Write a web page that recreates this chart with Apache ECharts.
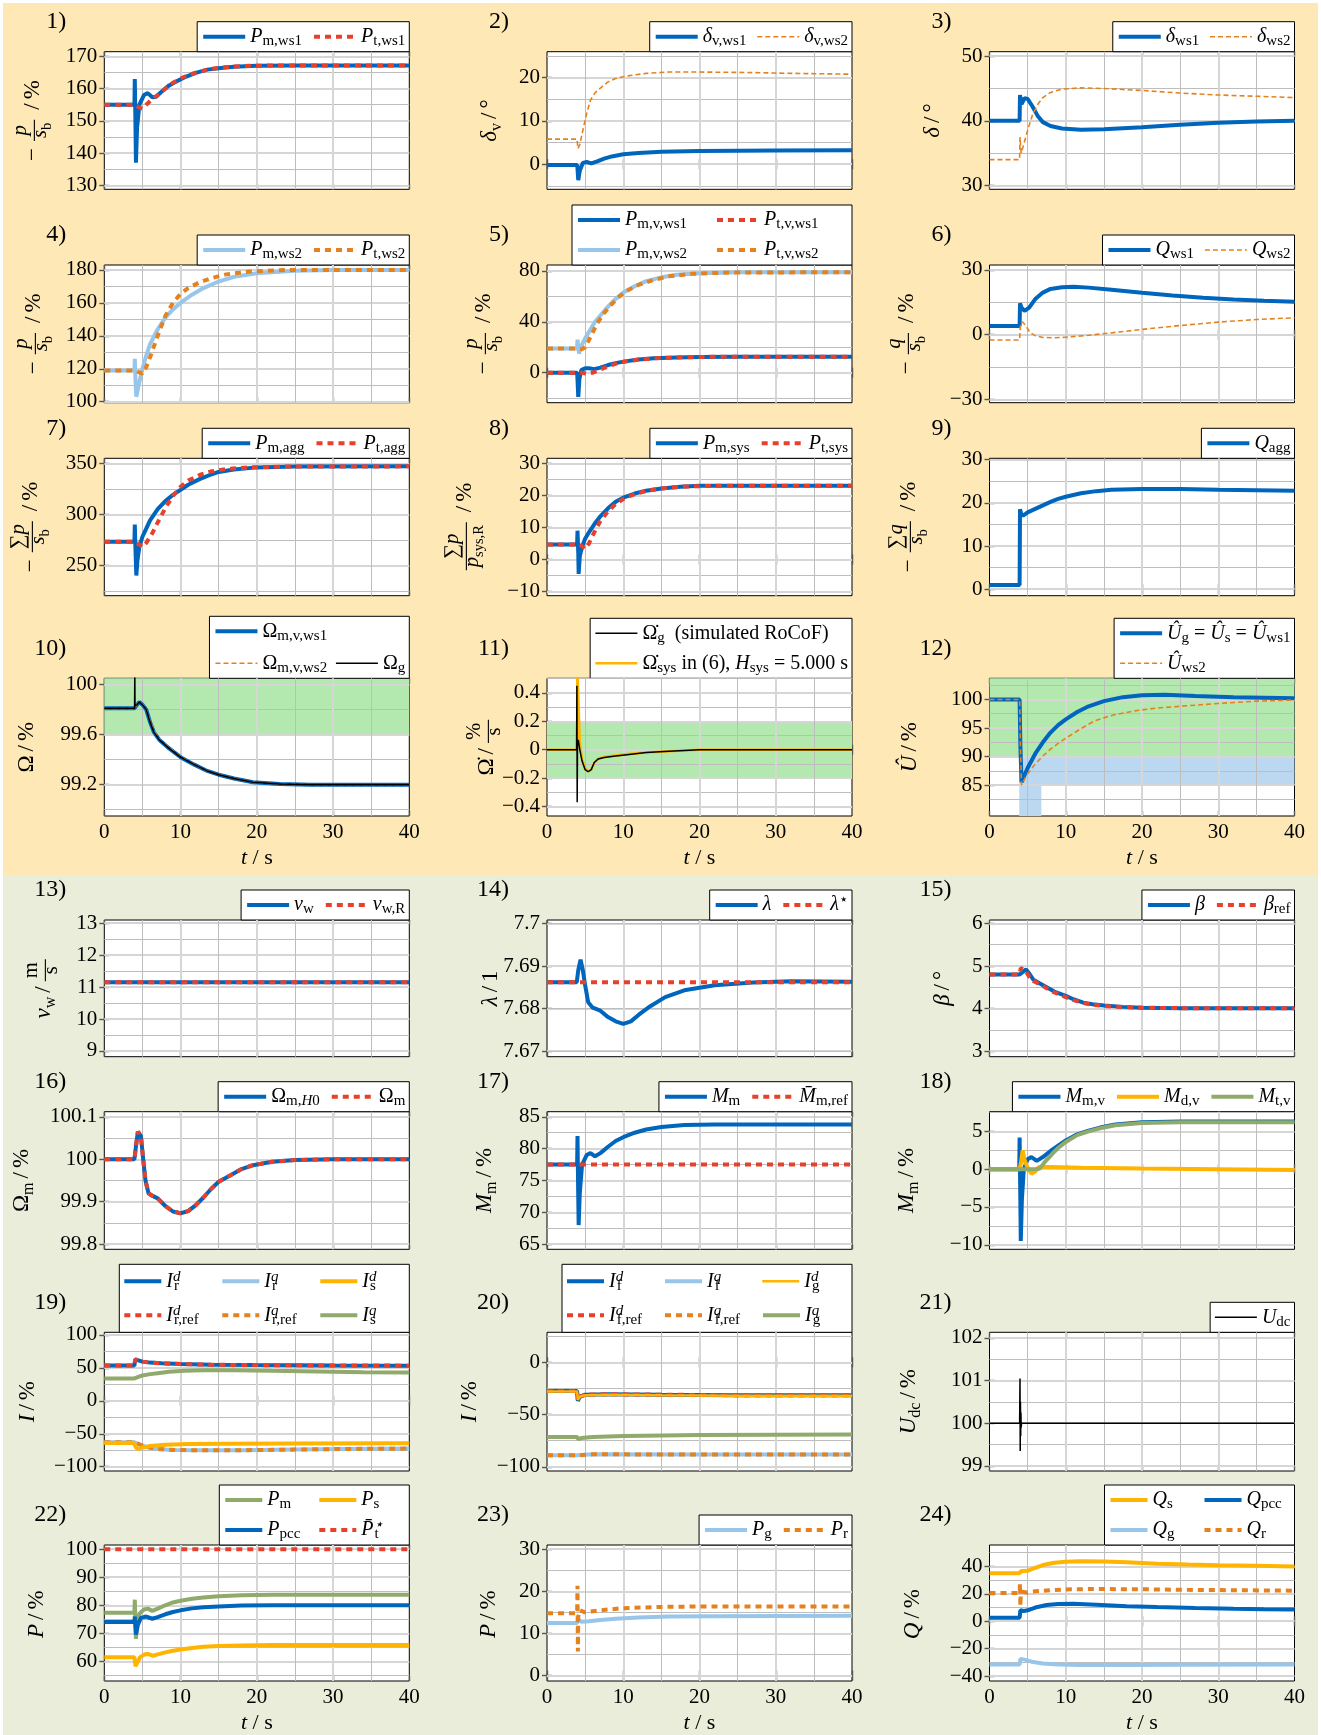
<!DOCTYPE html>
<html><head><meta charset="utf-8">
<script src="https://cdn.jsdelivr.net/npm/echarts@6/dist/echarts.min.js"></script>
<style>
html,body{margin:0;padding:0;background:#fff}
#wrap{position:relative;width:1321px;height:1735px;background:#fff}
#py{position:absolute;left:3px;top:3px;width:1315px;height:872px;background:#FDE8B6}
#pg{position:absolute;left:3px;top:875px;width:1315px;height:860px;background:#EAEDD9}
#c{position:absolute;left:0;top:0;width:1321px;height:1735px}
</style>
</head><body><div id="wrap"><div id="py"></div><div id="pg"></div><div id="c"></div></div>
<script>
// ---------------- DATA ----------------
const xRange = [0, 40];
const xTicks = [0, 10, 20, 30, 40];

const y1Range = [128.75, 171.46], y1Ticks = [130, 140, 150, 160, 170];
const p1_pm = [[0,155],[3.95,155],[4.0,163],[4.08,150],[4.15,137],[4.3,148],[4.6,155],[5.2,158],[5.7,158.6],[6.3,157.3],[6.8,157.5],[7.5,159],[8.5,161],[9.5,162.3],[10.5,163.5],[12,164.9],[13.5,165.9],[15,166.3],[17,166.8],[20,167.1],[25,167.2],[40,167.2]];
const p1_pt = [[0,155],[4,155],[4.5,154.2],[5,153.8],[5.5,155],[6.3,156.8],[7,158],[8,160],[9,161.8],[10,163.1],[11,164.2],[12.5,165.3],[14,166.1],[16,166.7],[19,167.1],[25,167.2],[40,167.2]];

const y2Range = [-5.8, 26], y2Ticks = [0, 10, 20];
const p2_ws1 = [[0,-0.2],[3.95,-0.2],[4.0,-1],[4.1,-3.7],[4.3,-1.5],[4.7,0.3],[5.2,0.5],[5.8,0.2],[6.5,0.6],[7.5,1.3],[8.5,1.8],[10,2.3],[12,2.6],[15,2.9],[20,3.05],[30,3.15],[40,3.2]];
const p2_ws2 = [[0,5.8],[3.95,5.8],[4.05,3.6],[4.3,4.5],[4.6,7],[5.1,11],[5.7,14.8],[6.3,16.5],[7,17.6],[8,19],[9,19.8],[10.5,20.4],[13,21],[16,21.3],[20,21.3],[26,21.2],[32,21],[40,20.8]];

const y3Range = [29.4, 50.7], y3Ticks = [30, 40, 50];
const p3_ws1 = [[0,40],[3.95,40],[4.0,44],[4.2,42.6],[4.6,43.5],[5,43.4],[5.6,42.3],[6.3,40.8],[7,39.8],[8,39.2],[9.5,38.8],[12,38.6],[15,38.7],[20,39],[25,39.4],[30,39.7],[35,39.9],[40,40]];
const p3_ws2 = [[0,34],[3.95,34],[4.0,37.5],[4.15,35],[4.4,36],[5,38.5],[5.6,40.8],[6.3,42.5],[7,43.6],[8,44.4],[9.5,44.9],[12,45.1],[15,45],[20,44.7],[25,44.3],[30,44],[35,43.8],[40,43.6]];

const y4Range = [99.4, 183], y4Ticks = [100, 120, 140, 160, 180];
const p4_pm = [[0,119],[3.95,119],[4.0,126],[4.1,112],[4.2,103],[4.5,110],[5,120],[5.5,128],[6,135],[7,144],[8,151],[9,156],[10,160],[11.5,165],[13,169],[15,173],[17,175.8],[20,178],[25,179.5],[30,180],[40,180]];
const p4_pt = [[0,119],[4,119],[4.5,118],[5,117],[5.5,121],[6,127],[7,140],[8,152],[9,160],[10,165.5],[11,169],[12.5,172.5],[14,175],[16,177.3],[19,179],[24,180],[40,180]];

const y5Range = [-23.6, 84.7], y5Ticks = [0, 40, 80];
const p5_pm1 = [[0,0],[3.95,0],[4.0,-5],[4.1,-19],[4.25,-5],[4.5,2],[5,3.5],[5.5,3.5],[6.2,2.8],[7,4],[8,6],[9,7.5],[10,8.7],[12,10.3],[14,11.3],[17,12],[20,12.4],[25,12.6],[40,12.6]];
const p5_pt1 = [[0,0],[4.6,0],[5.3,-0.8],[6,0],[7,2.5],[8,5],[9,7],[10,8.5],[12,10.3],[14,11.3],[17,12],[20,12.4],[25,12.6],[40,12.6]];
const p5_pm2 = [[0,19],[3.95,19],[4.0,26],[4.1,20],[4.2,15],[4.5,21],[5,27],[5.5,32],[6.3,40],[7,45],[8,52],[9,58],[10,63],[11.5,68],[13,72],[15,75],[17,77],[20,78.3],[25,79],[40,79]];
const p5_pt2 = [[0,19],[4,19],[4.6,18.5],[5,20],[5.7,28],[6.5,38],[7.5,47],[8.5,54],[9.5,60],[10.5,64.5],[12,69],[14,73],[16,75.8],[19,77.8],[24,78.8],[40,79]];

const y6Range = [-31.6, 32.3], y6Ticks = [-30, 0, 30];
const p6_ws1 = [[0,4],[3.95,4],[4.0,14.5],[4.2,12.5],[4.6,11],[5.2,12.5],[6,16.5],[7,19.5],[8,21.2],[9.5,22],[11,22.2],[13,21.8],[16,20.8],[20,19.4],[24,18.2],[28,17.1],[32,16.3],[36,15.7],[40,15.3]];
const p6_ws2 = [[0,-2.5],[3.95,-2.5],[4.05,4],[4.3,6],[4.7,4.5],[5.3,1],[6,-0.5],[7,-1.3],[8.5,-1.5],[10,-1.2],[13,-0.3],[17,1.2],[21,2.8],[25,4.2],[30,5.8],[35,7],[40,7.8]];

const y7Range = [220.2, 354.9], y7Ticks = [250, 300, 350];
const p7_pm = [[0,273],[3.95,273],[4.0,290],[4.1,262],[4.2,240],[4.35,255],[4.6,268],[5,278],[5.5,286],[6,294],[7,305],[8,313],[9,319],[10,324],[11,329],[12.5,334.5],[14,339],[15,341.5],[17,344],[20,346],[25,346.8],[40,347]];
const p7_pt = [[0,273],[4,273],[4.5,271],[5,268],[5.5,272],[6.2,280],[7,292],[8,306],[9,318],[10,327],[11,333],[12.5,338.5],[14,342],[16,344.5],[19,346],[24,346.8],[40,347]];

const y8Range = [-11.3, 31.6], y8Ticks = [-10, 0, 10, 20, 30];
const p8_pm = [[0,4.7],[3.95,4.7],[4.0,9],[4.1,2],[4.15,-4.5],[4.3,1],[4.6,4],[5,6.5],[5.5,8.5],[6.2,11],[7,13.5],[8,16],[9,18],[10,19.3],[11.5,20.6],[13,21.5],[15,22.2],[17.5,22.7],[20,23],[25,23],[40,23]];
const p8_pt = [[0,4.7],[4.3,4.7],[5,3.3],[5.5,5],[6.2,8.5],[7,12],[8,15],[9,17.3],[10,18.9],[11.5,20.4],[13,21.4],[15,22.2],[18,22.8],[22,23],[40,23]];

const y9Range = [-1.5, 30.3], y9Ticks = [0, 10, 20, 30];
const p9_q = [[0,1],[3.95,1],[4.0,18.5],[4.15,17.5],[4.4,17],[5,17.8],[6,18.6],[7,19.4],[8,20.2],[9,20.9],[10,21.4],[12,22.2],[14,22.7],[16,23],[20,23.2],[25,23.2],[30,23],[35,22.9],[40,22.8]];

const y10Range = [98.95, 100.05], y10Ticks = [99.2, 99.6, 100];
const band10 = [99.6, 100.05];
const p10_ws1 = [[0,99.81],[3.95,99.81],[4.3,99.84],[4.6,99.86],[5,99.84],[5.5,99.8],[6,99.7],[6.5,99.62],[7.2,99.56],[8.5,99.49],[10,99.42],[11.8,99.36],[13.5,99.31],[15,99.28],[17,99.25],[19.5,99.22],[23,99.205],[27,99.2],[40,99.2]];
const p10_ws2 = [[0,99.81],[3.95,99.81],[4.3,99.845],[4.6,99.862],[5,99.845],[5.5,99.8],[6,99.71],[6.5,99.63],[7.2,99.565],[8.5,99.495],[10,99.425],[11.8,99.36],[13.5,99.31],[15,99.28],[17,99.25],[19.5,99.22],[23,99.205],[27,99.2],[40,99.2]];
const p10_g = [[0,99.81],[3.97,99.81],[4.0,100.1],[4.03,99.83],[4.3,99.84],[4.6,99.86],[5,99.84],[5.5,99.8],[6,99.7],[6.5,99.62],[7.2,99.56],[8.5,99.49],[10,99.42],[11.8,99.36],[13.5,99.31],[15,99.28],[17,99.25],[19.5,99.22],[23,99.205],[27,99.2],[40,99.2]];

const y11Range = [-0.466, 0.502], y11Ticks = [-0.4, -0.2, 0, 0.2, 0.4];
const band11 = [-0.2, 0.2];
const p11_g = [[0,0],[3.88,0],[3.92,0.45],[3.96,-0.37],[4.0,0.05],[4.1,0.07],[4.3,0],[4.6,-0.08],[5,-0.14],[5.4,-0.155],[5.8,-0.14],[6.2,-0.09],[6.7,-0.065],[7.5,-0.055],[9,-0.045],[10.5,-0.035],[13,-0.02],[16,-0.01],[20,0],[40,0]];
const p11_sys = [[0,0],[3.95,0],[3.97,0.6],[4.05,0.6],[4.3,0.05],[4.6,-0.07],[5,-0.13],[5.4,-0.15],[5.8,-0.14],[6.2,-0.09],[6.7,-0.065],[7.5,-0.05],[9,-0.04],[10.5,-0.03],[13,-0.02],[16,-0.01],[20,0],[40,0]];

const y12Range = [79.6, 103.7], y12Ticks = [85, 90, 95, 100];
const band12g = [90, 103.7];
const band12b = [85, 90];
const band12c = [3.9, 6.8];
const p12_u = [[0,100],[3.95,100],[4.05,92],[4.2,85.5],[4.5,86.5],[5,88],[6,90.5],[7,92.5],[8,94.2],[9,95.5],[10,96.5],[11.5,97.8],[13,98.8],[15,99.7],[17.5,100.4],[20,100.75],[23,100.8],[27,100.6],[32,100.4],[40,100.2]];
const p12_ws2 = [[0,100],[3.95,100],[4.05,92],[4.2,85],[4.5,85.8],[5,87],[6,88.7],[7,90.1],[8,91.3],[9,92.3],[10,93.2],[12,94.9],[13.7,96.2],[16,97.2],[19,98],[22,98.5],[25,98.8],[30,99.3],[35,99.7],[40,99.9]];

const y13Range = [8.82, 13.1], y13Ticks = [9, 10, 11, 12, 13];
const p13_vw = [[0,11.15],[40,11.15]];
const p13_vwr = [[0,11.15],[40,11.15]];

const y14Range = [7.6687, 7.7008], y14Ticks = [7.67, 7.68, 7.69, 7.7];
const p14_l = [[0,7.6862],[3.9,7.6862],[4.1,7.689],[4.4,7.6915],[4.7,7.689],[5,7.6855],[5.4,7.6815],[6,7.6802],[7,7.6795],[8,7.678],[9,7.677],[10,7.6764],[11,7.677],[12,7.6785],[13.5,7.6805],[15.5,7.6827],[18,7.6843],[22,7.6855],[27,7.6861],[32,7.6864],[40,7.6863]];
const p14_ls = [[0,7.6862],[40,7.6862]];

const y15Range = [2.87, 6.08], y15Ticks = [3, 4, 5, 6];
const p15_b = [[0,4.8],[3.95,4.8],[4.3,4.85],[4.8,4.92],[5.3,4.8],[5.75,4.68],[6.5,4.6],[7.5,4.5],[8.5,4.4],[10,4.3],[11,4.22],[12.3,4.14],[13.5,4.1],[15,4.07],[17.5,4.04],[20,4.02],[25,4.01],[40,4.01]];
const p15_br = [[0,4.8],[3.95,4.8],[4.1,4.95],[4.3,4.98],[4.7,4.9],[5.2,4.75],[5.75,4.65],[6.5,4.58],[7.5,4.48],[8.5,4.38],[10,4.27],[11,4.2],[12.3,4.13],[13.5,4.09],[15,4.06],[17.5,4.035],[20,4.02],[25,4.01],[40,4.01]];

const y16Range = [99.788, 100.112], y16Ticks = [99.8, 99.9, 100, 100.1];
const p16_h0 = [[0,100],[3.95,100],[4.15,100.03],[4.4,100.065],[4.6,100.069],[4.8,100.055],[5.1,100.0],[5.4,99.95],[5.8,99.92],[6.2,99.915],[7,99.908],[8,99.89],[9,99.877],[10,99.873],[11,99.878],[12,99.892],[13,99.91],[14,99.93],[15,99.947],[16.5,99.962],[18,99.977],[19.5,99.986],[22,99.994],[25,99.998],[30,100],[40,100]];
const p16_m = [[0,100],[3.95,100],[4.15,100.03],[4.4,100.065],[4.6,100.069],[4.8,100.055],[5.1,100.0],[5.4,99.95],[5.8,99.92],[6.2,99.915],[7,99.908],[8,99.89],[9,99.877],[10,99.873],[11,99.878],[12,99.892],[13,99.91],[14,99.93],[15,99.947],[16.5,99.962],[18,99.977],[19.5,99.986],[22,99.994],[25,99.998],[30,100],[40,100]];

const y17Range = [64.2, 85.8], y17Ticks = [65, 70, 75, 80, 85];
const p17_m = [[0,77.5],[3.95,77.5],[4.0,82],[4.08,74],[4.15,68],[4.3,73],[4.6,77.5],[5.2,79],[5.7,79.3],[6.3,78.8],[7,79.3],[8,80.3],[9,81.2],[10,81.8],[11.5,82.5],[13,83],[15,83.4],[18,83.7],[22,83.8],[40,83.8]];
const p17_ref = [[0,77.5],[40,77.5]];

const y18Range = [-10.6, 7.6], y18Ticks = [-10, -5, 0, 5];
const p18_m = [[0,0],[3.9,0],[3.95,4.2],[4.02,-2],[4.1,-9.5],[4.25,-4],[4.5,0],[5,1.3],[5.5,1.6],[6.2,1.1],[7,1.6],[8,2.4],[9,3.1],[10,3.8],[11.5,4.6],[13,5.1],[14.5,5.5],[16.5,5.9],[20,6.2],[25,6.3],[40,6.3]];
const p18_d = [[0,0],[3.95,0],[4.15,1],[4.35,2.5],[4.6,1.2],[5,0.2],[5.5,-0.6],[6,-0.3],[6.5,0.3],[8,0.3],[12,0.2],[20,0.1],[30,0],[40,-0.1]];
const p18_t = [[0,0],[6,0],[6.6,0.1],[7.3,1],[8.2,2],[9,2.8],[10,3.6],[11.5,4.5],[13,5],[14.5,5.4],[16.5,5.8],[20,6.1],[25,6.2],[40,6.2]];

const y19Range = [-106.5, 104], y19Ticks = [-100, -50, 0, 50, 100];
const p19_ird = [[0,53.5],[3.95,53.5],[4.05,63],[4.3,61.5],[5,59.5],[6,58],[7.5,57],[10,55.8],[14,54.8],[20,54.2],[30,53.6],[40,53.4]];
const p19_irdr = [[0,53.5],[3.95,53.5],[4.05,63],[4.3,61.5],[5,59.5],[6,58],[7.5,57],[10,55.8],[14,54.8],[20,54.2],[30,53.6],[40,53.4]];
const p19_irq = [[0,-63],[3.95,-63],[4.2,-61],[4.6,-66],[5.5,-70],[7,-73],[9,-74.5],[12,-75],[18,-75],[25,-74],[32,-73],[40,-72.5]];
const p19_irqr = [[0,-63],[3.95,-63],[4.2,-61],[4.6,-66],[5.5,-70],[7,-73],[9,-74.5],[12,-75],[18,-75],[25,-74],[32,-73],[40,-72.5]];
const p19_isd = [[0,-64],[3.95,-64],[4.1,-70],[4.4,-73],[5,-71],[6,-68.5],[8,-66.5],[11,-65.5],[16,-65],[25,-64.8],[40,-64.5]];
const p19_isq = [[0,34],[3.95,34],[4.1,37],[5,38.5],[6,40.5],[7,42],[8.5,44],[10.5,45.5],[13,46.5],[17,46.5],[22,45.5],[28,44.5],[34,43.5],[40,43]];

const y20Range = [-104, 28.7], y20Ticks = [-100, -50, 0];
const p20_ifd = [[0,-27.5],[3.95,-27.5],[4.05,-37],[4.3,-33],[5,-31],[8,-30.5],[15,-31],[25,-31.5],[40,-31.5]];
const p20_ifdr = [[0,-27.5],[3.95,-27.5],[4.05,-37],[4.3,-33],[5,-31],[8,-30.5],[15,-31],[25,-31.5],[40,-31.5]];
const p20_igd = [[0,-28],[3.95,-28],[4.05,-36],[4.3,-33],[5,-31.5],[8,-31],[15,-31.5],[25,-32],[40,-32]];
const p20_ifq = [[0,-89],[3.95,-89],[4.2,-88],[6,-88],[20,-88.3],[40,-88.3]];
const p20_ifqr = [[0,-89],[3.95,-89],[4.2,-88],[6,-88],[20,-88.3],[40,-88.3]];
const p20_igq = [[0,-71.5],[3.95,-71.5],[4.1,-73.5],[4.5,-72.5],[6,-71.5],[10,-70.5],[20,-69.5],[40,-69]];

const y21Range = [98.88, 102.13], y21Ticks = [99, 100, 101, 102];
const p21_u = [[0,100],[3.95,100],[4.0,101.05],[4.03,99.35],[4.06,100.5],[4.09,99.7],[4.12,100.25],[4.16,99.9],[4.2,100],[40,100]];

const y22Range = [53, 101.5], y22Ticks = [60, 70, 80, 90, 100];
const p22_pm = [[0,77.3],[3.95,77.3],[4.0,82],[4.08,74],[4.15,68],[4.3,73],[4.6,77],[5.2,78.5],[5.7,78.8],[6.3,78],[7,78.8],[8,80],[9,81],[10,81.6],[11.5,82.3],[13,82.8],[15,83.2],[18,83.6],[22,83.8],[40,83.8]];
const p22_ps = [[0,61.5],[3.95,61.5],[4.1,58.3],[4.3,59],[4.7,61.5],[5.3,62.5],[5.8,62.6],[6.4,62],[7,62.5],[8,63.2],[9,63.8],[10,64.2],[11.5,64.8],[13,65.2],[15,65.5],[18,65.7],[22,65.8],[40,65.8]];
const p22_ppcc = [[0,74],[3.95,74],[4.0,76],[4.15,69.5],[4.4,73],[4.8,75.5],[5.5,76],[6.3,75.2],[7,75.8],[8,76.8],[9,77.6],[10,78.2],[11.5,78.9],[13,79.3],[15,79.6],[18,79.9],[22,80],[40,80]];
const p22_pt = [[0,100],[40,100]];

const y23Range = [-1.3, 31], y23Ticks = [0, 10, 20, 30];
const p23_pg = [[0,12.5],[3.95,12.5],[4.1,13.3],[4.5,12.8],[5.5,12.9],[7,13.2],[9,13.5],[12,13.8],[16,14],[22,14.1],[40,14.2]];
const p23_pr = [[0,14.8],[3.95,14.8],[4.0,21.3],[4.05,5.7],[4.1,14],[4.3,15.5],[5,15],[7,15.5],[10,16],[15,16.3],[20,16.4],[40,16.4]];

const y24Range = [-43.6, 55.6], y24Ticks = [-40, -20, 0, 20, 40];
const p24_qs = [[0,35],[3.95,35],[4.1,36.5],[5,36.8],[6,39],[7,41],[8.5,42.6],[10,43.4],[12,43.8],[15,43.6],[18,43],[22,42],[26,41.3],[30,40.8],[35,40.4],[40,40]];
const p24_qpcc = [[0,2.5],[3.95,2.5],[4.05,8],[4.5,7.5],[5,8],[6,10],[7.5,11.8],[9,12.5],[11,12.7],[14,12.1],[18,11],[22,10.3],[27,9.6],[32,9.1],[36,8.8],[40,8.6]];
const p24_qg = [[0,-31.5],[3.95,-31.5],[4.05,-27.5],[4.6,-28],[5.5,-29.5],[7,-30.8],[9,-31.5],[12,-32],[18,-32],[25,-31.8],[40,-31.5]];
const p24_qr = [[0,20.5],[3.95,20.5],[4.0,27.5],[4.05,11],[4.1,19.5],[4.3,21.5],[5,20.8],[6,21.8],[8,22.6],[10,23.2],[14,23.5],[20,23.3],[26,22.9],[32,22.6],[40,22.3]];

// ---------------- STYLE / LAYOUT ----------------
const W = 1321, H = 1735;
const FONT = '"Liberation Serif","DejaVu Serif",serif';
const COLS = [104.3, 547, 989.5], PW = 305;
const ROWS = [[51.7,189.3],[265,402.7],[458.3,595.7],[678.3,816],[920,1056.7],[1111.7,1249.3],[1332.3,1471],[1545,1683.3]];
const COL = {blue:'#0065BD', red:'#E8402D', lblue:'#98C6EA', orange:'#E5821E', yellow:'#FFB400', green:'#8FAA6A', black:'#000000'};
const LS = {
  solid: c => ({color:c, width:4, type:'solid'}),
  dotted: c => ({color:c, width:4, type:[6,5]}),
  dashed: c => ({color:c, width:1.6, type:[5,3]}),
  thin: c => ({color:c, width:1.5, type:'solid'}),
  mid: c => ({color:c, width:2.5, type:'solid'})
};
const GREEN_BAND = '#B3E8AE', BLUE_BAND = '#BCD8F0';
const TICKFS = 21;

// typesetting helpers for axis titles
const R = t => ({t, it:false}), I = t => ({t, it:true}), S = t => ({t, it:false, sub:true}), SI = t => ({t, it:true, sub:true});
const F = (n, d) => ({frac:[n, d]});
const SP = w => ({sp:w});
const SL = [SP(4), R('/'), SP(4)];
const frP = [R('−'), SP(6), F([I('p')], [I('s'), S('b')]), SP(5), ...SL, R('%')];

const PLOTS = [
 {range:y1Range, ticks:y1Ticks, tx:33, title:frP,
  series:[{lab:'{i|P}{s|m,ws1}', d:p1_pm, c:'blue', s:'solid'}, {lab:'{i|P}{s|t,ws1}', d:p1_pt, c:'red', s:'dotted'}]},
 {range:y2Range, ticks:y2Ticks, tx:490, title:[I('δ'), S('v'), ...SL, R('°')],
  series:[{lab:'{i|δ}{s|v,ws1}', d:p2_ws1, c:'blue', s:'solid'}, {lab:'{i|δ}{s|v,ws2}', d:p2_ws2, c:'orange', s:'dashed'}]},
 {range:y3Range, ticks:y3Ticks, tx:933, title:[I('δ'), ...SL, R('°')],
  series:[{lab:'{i|δ}{s|ws1}', d:p3_ws1, c:'blue', s:'solid'}, {lab:'{i|δ}{s|ws2}', d:p3_ws2, c:'orange', s:'dashed'}]},
 {range:y4Range, ticks:y4Ticks, tx:34, title:frP,
  series:[{lab:'{i|P}{s|m,ws2}', d:p4_pm, c:'lblue', s:'solid'}, {lab:'{i|P}{s|t,ws2}', d:p4_pt, c:'orange', s:'dotted'}]},
 {range:y5Range, ticks:y5Ticks, tx:484, title:frP, lg:{tw:84, lw:275, gap:6},
  series:[{lab:'{i|P}{s|m,v,ws1}', d:p5_pm1, c:'blue', s:'solid'}, {lab:'{i|P}{s|t,v,ws1}', d:p5_pt1, c:'red', s:'dotted'},
          {lab:'{i|P}{s|m,v,ws2}', d:p5_pm2, c:'lblue', s:'solid'}, {lab:'{i|P}{s|t,v,ws2}', d:p5_pt2, c:'orange', s:'dotted'}]},
 {range:y6Range, ticks:y6Ticks, tx:907, title:[R('−'), SP(6), F([I('q')], [I('s'), S('b')]), SP(5), ...SL, R('%')],
  series:[{lab:'{i|Q}{s|ws1}', d:p6_ws1, c:'blue', s:'solid'}, {lab:'{i|Q}{s|ws2}', d:p6_ws2, c:'orange', s:'dashed'}]},
 {range:y7Range, ticks:y7Ticks, tx:31, title:[R('−'), SP(6), F([R('∑'), I('p')], [I('s'), S('b')]), SP(5), ...SL, R('%')],
  series:[{lab:'{i|P}{s|m,agg}', d:p7_pm, c:'blue', s:'solid'}, {lab:'{i|P}{s|t,agg}', d:p7_pt, c:'red', s:'dotted'}]},
 {range:y8Range, ticks:y8Ticks, tx:465, title:[F([R('∑'), I('p')], [I('p'), S('sys,R')]), SP(5), ...SL, R('%')],
  series:[{lab:'{i|P}{s|m,sys}', d:p8_pm, c:'blue', s:'solid'}, {lab:'{i|P}{s|t,sys}', d:p8_pt, c:'red', s:'dotted'}]},
 {range:y9Range, ticks:y9Ticks, tx:909, title:[R('−'), SP(6), F([R('∑'), I('q')], [I('s'), S('b')]), SP(5), ...SL, R('%')],
  series:[{lab:'{i|Q}{s|agg}', d:p9_q, c:'blue', s:'solid'}]},
 {range:y10Range, ticks:y10Ticks, tx:27, title:[R('Ω'), ...SL, R('%')], lg:{lw:200, gap:8},
  bands:[[0,40,band10[0],band10[1],GREEN_BAND]],
  series:[{lab:'{r|Ω}{s|m,v,ws1}', d:p10_ws1, c:'blue', s:'solid'}, {lab:'{r|Ω}{s|m,v,ws2}', d:p10_ws2, c:'orange', s:'dashed'},
          {lab:'{r|Ω}{s|g}', d:p10_g, c:'black', s:'thin'}]},
 {range:y11Range, ticks:y11Ticks, tx:487, title:[R('Ω̇'), ...SL, F([R('%')], [R('s')])], lg:{lw:230, gap:6}, order:[1,0],
  bands:[[0,40,band11[0],band11[1],GREEN_BAND]],
  series:[{lab:'{r|Ω̇}{s|sys}{r| in (6), }{i|H}{s|sys}{r| = 5.000 s}', d:p11_sys, c:'yellow', s:'mid'},
          {lab:'{r|Ω̇}{s|g}{r|  (simulated RoCoF)}', d:p11_g, c:'black', s:'thin'}]},
 {range:y12Range, ticks:y12Ticks, tx:910, title:[I('Û'), ...SL, R('%')], lg:{lw:230, gap:6},
  bands:[[0,40,band12g[0],band12g[1],GREEN_BAND],[band12c[0],40,band12b[0],band12b[1],BLUE_BAND],[band12c[0],band12c[1],y12Range[0],band12b[0],BLUE_BAND]],
  series:[{lab:'{i|Û}{s|g}{r| = }{i|Û}{s|s}{r| = }{i|Û}{s|ws1}', d:p12_u, c:'blue', s:'solid'}, {lab:'{i|Û}{s|ws2}', d:p12_ws2, c:'orange', s:'dashed'}]},
 {range:y13Range, ticks:y13Ticks, tx:44, title:[I('v'), S('w'), ...SL, F([R('m')], [R('s')])],
  series:[{lab:'{i|v}{s|w}', d:p13_vw, c:'blue', s:'solid'}, {lab:'{i|v}{s|w,R}', d:p13_vwr, c:'red', s:'dotted'}]},
 {range:y14Range, ticks:y14Ticks, tx:491, title:[I('λ'), ...SL, R('1')],
  series:[{lab:'{i|λ}', d:p14_l, c:'blue', s:'solid'}, {lab:'{i|λ}{ps|⋆}', d:p14_ls, c:'red', s:'dotted'}]},
 {range:y15Range, ticks:y15Ticks, tx:943, title:[I('β'), ...SL, R('°')],
  series:[{lab:'{i|β}', d:p15_b, c:'blue', s:'solid'}, {lab:'{i|β}{s|ref}', d:p15_br, c:'red', s:'dotted'}]},
 {range:y16Range, ticks:y16Ticks, tx:22, title:[R('Ω'), S('m'), ...SL, R('%')],
  series:[{lab:'{r|Ω}{s|m,}{si|H}{s|0}', d:p16_h0, c:'blue', s:'solid'}, {lab:'{r|Ω}{s|m}', d:p16_m, c:'red', s:'dotted'}]},
 {range:y17Range, ticks:y17Ticks, tx:485, title:[I('M'), S('m'), ...SL, R('%')],
  series:[{lab:'{i|M}{s|m}', d:p17_m, c:'blue', s:'solid'}, {lab:'{i|M̄}{s|m,ref}', d:p17_ref, c:'red', s:'dotted'}]},
 {range:y18Range, ticks:y18Ticks, tx:907, title:[I('M'), S('m'), ...SL, R('%')],
  series:[{lab:'{i|M}{s|m,v}', d:p18_m, c:'blue', s:'solid'}, {lab:'{i|M}{s|d,v}', d:p18_d, c:'yellow', s:'solid'}, {lab:'{i|M}{s|t,v}', d:p18_t, c:'green', s:'solid'}]},
 {range:y19Range, ticks:y19Ticks, tx:28, title:[I('I'), ...SL, R('%')], lg:{tw:44, lw:300, gap:10, iw:37, pad:[5,3]}, order:[0,2,4,1,3,5],
  series:[{lab:'{i|I}{pz|d}{s|r}', d:p19_ird, c:'blue', s:'solid'}, {lab:'{i|I}{pz|d}{s|r,ref}', d:p19_irdr, c:'red', s:'dotted'},
          {lab:'{i|I}{pz|q}{s|r}', d:p19_irq, c:'lblue', s:'solid'}, {lab:'{i|I}{pz|q}{s|r,ref}', d:p19_irqr, c:'orange', s:'dotted'},
          {lab:'{i|I}{pz|d}{s|s}', d:p19_isd, c:'yellow', s:'solid'}, {lab:'{i|I}{pz|q}{s|s}', d:p19_isq, c:'green', s:'solid'}]},
 {range:y20Range, ticks:y20Ticks, tx:470, title:[I('I'), ...SL, R('%')], lg:{tw:44, lw:300, gap:10, iw:37, pad:[5,3]}, order:[0,3,5,1,4,2],
  series:[{lab:'{i|I}{pz|d}{s|f}', d:p20_ifd, c:'blue', s:'solid'}, {lab:'{i|I}{pz|d}{s|f,ref}', d:p20_ifdr, c:'red', s:'dotted'},
          {lab:'{i|I}{pz|q}{s|g}', d:p20_igq, c:'green', s:'solid'},
          {lab:'{i|I}{pz|q}{s|f}', d:p20_ifq, c:'lblue', s:'solid'}, {lab:'{i|I}{pz|q}{s|f,ref}', d:p20_ifqr, c:'orange', s:'dotted'},
          {lab:'{i|I}{pz|d}{s|g}', d:p20_igd, c:'yellow', s:'mid'}]},
 {range:y21Range, ticks:y21Ticks, tx:909, title:[I('U'), S('dc'), ...SL, R('%')],
  series:[{lab:'{i|U}{s|dc}', d:p21_u, c:'black', s:'thin'}]},
 {range:y22Range, ticks:y22Ticks, tx:37, title:[I('P'), ...SL, R('%')], lg:{tw:44, lw:195, gap:6, iw:37},
  series:[{lab:'{i|P}{s|m}', d:p22_pm, c:'green', s:'solid'}, {lab:'{i|P}{s|s}', d:p22_ps, c:'yellow', s:'solid'},
          {lab:'{i|P}{s|pcc}', d:p22_ppcc, c:'blue', s:'solid'}, {lab:'{i|P̄}{pz|⋆}{s|t}', d:p22_pt, c:'red', s:'dotted'}]},
 {range:y23Range, ticks:y23Ticks, tx:489, title:[I('P'), ...SL, R('%')],
  series:[{lab:'{i|P}{s|g}', d:p23_pg, c:'lblue', s:'solid'}, {lab:'{i|P}{s|r}', d:p23_pr, c:'orange', s:'dotted'}]},
 {range:y24Range, ticks:y24Ticks, tx:913, title:[I('Q'), ...SL, R('%')], lg:{tw:44, lw:195, gap:6, iw:37},
  series:[{lab:'{i|Q}{s|s}', d:p24_qs, c:'yellow', s:'solid'}, {lab:'{i|Q}{s|pcc}', d:p24_qpcc, c:'blue', s:'solid'},
          {lab:'{i|Q}{s|g}', d:p24_qg, c:'lblue', s:'solid'}, {lab:'{i|Q}{s|r}', d:p24_qr, c:'orange', s:'dotted'}]}
];

const RICH = {
  r:{fontFamily:FONT, fontSize:20, lineHeight:24, color:'#000'},
  i:{fontFamily:FONT, fontSize:20, fontStyle:'italic', lineHeight:24, color:'#000'},
  s:{fontFamily:FONT, fontSize:15, lineHeight:11, verticalAlign:'bottom', color:'#000'},
  si:{fontFamily:FONT, fontSize:15, fontStyle:'italic', lineHeight:11, verticalAlign:'bottom', color:'#000'},
  p:{fontFamily:FONT, fontSize:15, fontStyle:'italic', lineHeight:11, verticalAlign:'top', color:'#000'},
  pz:{fontFamily:FONT, fontSize:15, fontStyle:'italic', lineHeight:11, verticalAlign:'top', color:'#000', width:1},
  ps:{fontFamily:FONT, fontSize:15, lineHeight:11, verticalAlign:'top', color:'#000'}
};

const mctx = document.createElement('canvas').getContext('2d');
function tokW(tk, size) { mctx.font = (tk.it ? 'italic ' : '') + size + 'px ' + FONT; return mctx.measureText(tk.t).width; }
const FR = 0.9;
function runWidth(tokens, size) {
  let w = 0;
  for (const tk of tokens) {
    if (tk.sp != null) w += tk.sp;
    else if (tk.frac) { const fs = size * FR; w += Math.max(runWidth(tk.frac[0], fs), runWidth(tk.frac[1], fs)) + 8; }
    else w += tokW(tk, tk.sub ? size * 0.7 : size);
  }
  return w;
}
function layoutRun(tokens, size, x, base, out) {
  for (const tk of tokens) {
    if (tk.sp != null) { x += tk.sp; continue; }
    if (tk.frac) {
      const fs = size * FR;
      const nw = runWidth(tk.frac[0], fs), dw = runWidth(tk.frac[1], fs);
      const w = Math.max(nw, dw) + 8;
      const axis = base - size * 0.27;
      layoutRun(tk.frac[0], fs, x + (w - nw) / 2, axis - 0.24 * fs - 2, out);
      layoutRun(tk.frac[1], fs, x + (w - dw) / 2, axis + 0.55 * fs + 2, out);
      out.push({type:'line', silent:true, shape:{x1:x + 1, y1:axis, x2:x + w - 1, y2:axis}, style:{stroke:'#000', lineWidth:1.1}});
      x += w;
    } else {
      const fs = tk.sub ? size * 0.7 : size;
      const b = tk.sub ? base + size * 0.2 : base;
      out.push({type:'text', silent:true, x:x, y:b - fs * 0.33, style:{text:tk.t, fontSize:fs, fontFamily:FONT, fontStyle:tk.it ? 'italic' : 'normal', fill:'#000', textAlign:'left', textVerticalAlign:'middle', verticalAlign:'middle'}});
      x += tokW(tk, fs);
    }
  }
  return x;
}
const fmt = v => (v < 0 ? '−' : '') + String(Math.abs(v));
const TICK = {color:'#555', width:1.4};
const MAJOR = {color:'#d6d6d6', width:2, type:'solid'};
const MINOR = {color:'#bdbdbd', width:1, type:'solid'};

const option = {animation:false, grid:[], xAxis:[], yAxis:[], series:[], legend:[], graphic:{elements:[]}};
const labelMap = {};

PLOTS.forEach((p, k) => {
  const row = Math.floor(k / 3), col = k % 3;
  const left = COLS[col], top = ROWS[row][0], height = ROWS[row][1] - ROWS[row][0];
  option.grid.push({left, top, width:PW, height, show:true, backgroundColor:'#fff', borderColor:'#000', borderWidth:1, containLabel:false});
  const showX = (row === 3 || row === 7);
  option.xAxis.push({gridIndex:k, type:'value', min:xRange[0], max:xRange[1], interval:10,
    axisLine:{show:false}, axisTick:{inside:true, length:5, lineStyle:TICK},
    axisLabel:{show:showX, fontFamily:FONT, fontSize:TICKFS, color:'#000', margin:6},
    splitLine:{show:false},
    name: showX ? '{i|t} / s' : '', nameLocation:'middle', nameGap:31,
    nameTextStyle:{fontFamily:FONT, fontSize:22, color:'#000', rich:{i:{fontFamily:FONT, fontSize:22, fontStyle:'italic', color:'#000'}}}});
  option.xAxis.push({gridIndex:k, type:'value', position:'top', min:xRange[0], max:xRange[1], interval:10,
    axisLine:{show:false}, axisTick:{inside:true, length:5, lineStyle:TICK}, axisLabel:{show:false}, splitLine:{show:false}});
  option.yAxis.push({gridIndex:k, type:'value', min:p.range[0], max:p.range[1],
    axisLine:{show:false}, axisTick:{inside:true, length:5, lineStyle:TICK, customValues:p.ticks},
    axisLabel:{customValues:p.ticks, formatter:fmt, fontFamily:FONT, fontSize:TICKFS, color:'#000', margin:7},
    splitLine:{show:false}});
  option.yAxis.push({gridIndex:k, type:'value', position:'right', min:p.range[0], max:p.range[1],
    axisLine:{show:false}, axisTick:{inside:true, length:5, lineStyle:TICK, customValues:p.ticks},
    axisLabel:{show:false}, splitLine:{show:false}});
  const xi = 2 * k, yi = 2 * k;
  const lines = [];
  const step = p.ticks[1] - p.ticks[0];
  p.ticks.forEach(v => { if (v > p.range[0] && v < p.range[1]) lines.push({yAxis:v, lineStyle:MAJOR}); });
  for (let j = -1; j < p.ticks.length; j++) {
    const v = Math.round((p.ticks[0] + (j + 0.5) * step) * 1e9) / 1e9;
    if (v > p.range[0] && v < p.range[1]) lines.push({yAxis:v, lineStyle:MINOR});
  }
  for (let v = 5; v < 40; v += 5) lines.push({xAxis:v, lineStyle: (v % 10 === 0) ? MAJOR : MINOR});
  const areas = (p.bands || []).map(b => [{xAxis:b[0], yAxis:b[2], itemStyle:{color:b[4]}}, {xAxis:b[1], yAxis:b[3]}]);
  option.series.push({type:'line', name:'grid' + k, xAxisIndex:xi, yAxisIndex:yi, data:[], silent:true, z:1,
    markArea:{silent:true, data:areas, itemStyle:{opacity:1}, label:{show:false}},
    markLine:{silent:true, symbol:['none','none'], label:{show:false}, emphasis:{disabled:true}, animation:false, data:lines}});
  const names = [];
  p.series.forEach((s, j) => {
    const nm = 'p' + (k + 1) + '_' + j;
    names.push(nm);
    labelMap[nm] = s.lab;
    const c = COL[s.c];
    option.series.push({type:'line', name:nm, xAxisIndex:xi, yAxisIndex:yi, data:s.d, symbol:'none', showSymbol:false,
      color:c, lineStyle:LS[s.s](c), z:10, silent:true, animation:false});
  });
  const lg = p.lg || {};
  const ordered = p.order ? p.order.map(i => names[i]) : names;
  const ts = {fontFamily:FONT, fontSize:20, color:'#000', lineHeight:24, rich:RICH};
  if (lg.tw) ts.width = lg.tw;
  const legend = {data:ordered, orient:'horizontal', align:'left',
    right: W - (left + PW), bottom: H - top,
    backgroundColor:'#fff', borderColor:'#000', borderWidth:1, borderRadius:0,
    padding: lg.pad || [3,4], itemGap: (lg.gap != null ? lg.gap : 10), itemWidth: lg.iw || 42, itemHeight: 12,
    selectedMode:false, formatter: n => labelMap[n], textStyle: ts,
    lineStyle:{width:'inherit'}, itemStyle:{opacity:0, borderWidth:0}};
  if (lg.lw) legend.width = lg.lw;
  option.legend.push(legend);
  option.graphic.elements.push({type:'text', silent:true, x:left - 38, y:top - 30,
    style:{text:(k + 1) + ')', fontSize:24, fontFamily:FONT, fill:'#000', textAlign:'right', textVerticalAlign:'middle', verticalAlign:'middle'}});
  const size = 23;
  const children = [];
  const tw = runWidth(p.title, size);
  layoutRun(p.title, size, -tw / 2, size * 0.33, children);
  option.graphic.elements.push({type:'group', silent:true, x:p.tx, y:top + height / 2, rotation:Math.PI / 2, children});
});

const chart = echarts.init(document.getElementById('c'), null, {renderer:'canvas'});
chart.setOption(option);
</script>
</body></html>
